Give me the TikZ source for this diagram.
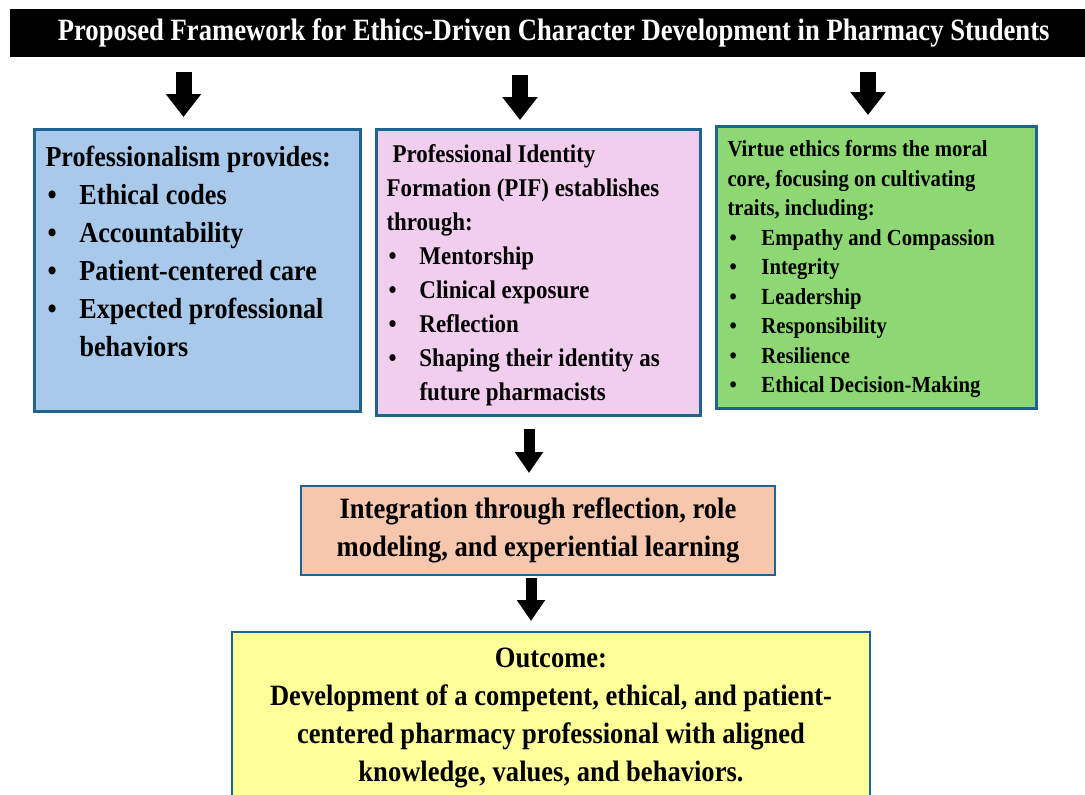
\documentclass[tikz,border=0pt]{standalone}
\usepackage{fontspec}
\setmainfont{Liberation Serif}[FakeStretch=0.9]
\newfontfamily\headfont{Liberation Serif}[FakeStretch=0.86]
\usetikzlibrary{arrows.meta,positioning}

\definecolor{edgeblue}{HTML}{1F6391}
\definecolor{profblue}{HTML}{A9C9EB}
\definecolor{pifpink}{HTML}{F1CDEE}
\definecolor{virtgreen}{HTML}{8ED873}
\definecolor{integsalmon}{HTML}{F6C6AD}
\definecolor{outyellow}{HTML}{FFFF99}

\newcommand{\itm}[2]{\makebox[#1][l]{\hspace{2pt}\textbullet}#2}

\begin{document}
\begin{tikzpicture}[x=1pt,y=-1pt,
  titlebar/.style={fill=black,text=white,inner sep=0pt,anchor=north west,
    minimum width=1075pt,minimum height=48pt,font=\headfont\bfseries\fontsize{31}{36}\selectfont},
  panel/.style={draw=edgeblue,line width=3pt,anchor=north west,inner xsep=11pt},
  thinpanel/.style={draw=edgeblue,line width=2pt,anchor=north west,inner sep=0pt},
  bigarrow/.style={line width=16pt,-{Triangle[width=34pt,length=23pt]}},
  smallarrow/.style={line width=11pt,-{Triangle[width=27pt,length=21pt]}}]

  \useasboundingbox (0,0) rectangle (1085,795);

  % header
  \node[titlebar] (title) at (10,9) {\hspace*{12pt}Proposed Framework for Ethics-Driven Character Development in Pharmacy Students};

  % three pillars
  \node[panel,fill=profblue,inner ysep=17pt] (prof) at (33,128)
    {\parbox[c][248pt][t]{304pt}{\raggedright\bfseries\fontsize{29}{38}\selectfont
      Professionalism provides:\\
      \itm{34pt}{Ethical codes}\\
      \itm{34pt}{Accountability}\\
      \itm{34pt}{Patient-centered care}\\
      \itm{34pt}{Expected professional}\\
      \hspace*{34pt}behaviors}};

  \node[panel,fill=pifpink,inner ysep=15pt,inner xsep=10pt] (pif) at (375,128)
    {\parbox[c][256pt][t]{304pt}{\raggedright\bfseries\fontsize{25.5}{34}\selectfont
      \hspace*{6pt}Professional Identity\\
      Formation (PIF) establishes\\
      through:\\
      \itm{33pt}{Mentorship}\\
      \itm{33pt}{Clinical exposure}\\
      \itm{33pt}{Reflection}\\
      \itm{33pt}{Shaping their identity as}\\
      \hspace*{33pt}future pharmacists}};

  \node[panel,fill=virtgreen,inner ysep=14pt] (virtue) at (715,125)
    {\parbox[c][254pt][t]{298pt}{\raggedright\bfseries\fontsize{23}{29.5}\selectfont
      Virtue ethics forms the moral\\
      core, focusing on cultivating\\
      traits, including:\\
      \itm{34pt}{Empathy and Compassion}\\
      \itm{34pt}{Integrity}\\
      \itm{34pt}{Leadership}\\
      \itm{34pt}{Responsibility}\\
      \itm{34pt}{Resilience}\\
      \itm{34pt}{Ethical Decision-Making}}};

  % integration and outcome
  \node[thinpanel,fill=integsalmon,minimum width=474pt,minimum height=89pt,align=center,
    font=\bfseries\fontsize{29.5}{38}\selectfont] (integ) at (300,485)
    {Integration through reflection, role\\modeling, and experiential learning};

  \node[thinpanel,fill=outyellow,inner xsep=10pt,inner ysep=16pt] (outcome) at (231,631)
    {\parbox[c][190pt][t]{618pt}{\centering\bfseries\fontsize{29.5}{38}\selectfont
      Outcome:\\
      Development of a competent, ethical, and patient-\\
      centered pharmacy professional with aligned\\
      knowledge, values, and behaviors.}};

  % arrows
  \coordinate (tip1) at (183.5,117);
  \coordinate (tip2) at (520,120);
  \coordinate (tip3) at (868,115);
  \coordinate (tip4) at (529,473);
  \coordinate (tip5) at (531,621);

  \draw[bigarrow,shorten <=15pt] (tip1 |- title.south) -- (tip1);
  \draw[bigarrow,shorten <=18pt] (tip2 |- title.south) -- (tip2);
  \draw[bigarrow,shorten <=15pt] (tip3 |- title.south) -- (tip3);
  \draw[smallarrow,shorten <=12pt] (tip4 |- pif.south) -- (tip4);
  \draw[smallarrow,shorten <=2pt] (tip5 |- integ.south) -- (tip5);
\end{tikzpicture}
\end{document}
